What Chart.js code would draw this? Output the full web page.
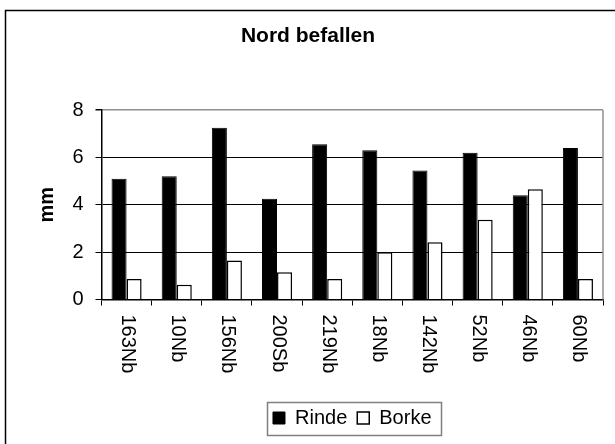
<!DOCTYPE html>
<html>
<head>
<meta charset="utf-8">
<script src="https://cdn.jsdelivr.net/npm/chart.js@4"></script>
<style>
    html, body { margin: 0; padding: 0; background: #fff; }
    canvas { display: block; }
</style>
</head>
<body>
<canvas id="myChart" width="615" height="444"></canvas>
<script>
// Sample names on the x axis
const samples = ['163Nb', '10Nb', '156Nb', '200Sb', '219Nb', '18Nb', '142Nb', '52Nb', '46Nb', '60Nb'];

// Thickness in mm
const rinde = [5.1, 5.2, 7.25, 4.25, 6.55, 6.3, 5.45, 6.2, 4.4, 6.4];
const borke = [0.87, 0.62, 1.65, 1.15, 0.87, 2.0, 2.42, 3.37, 4.65, 0.87];

const yTicks = [0, 2, 4, 6, 8];

const FONT = '"Liberation Sans", Arial, sans-serif';

Chart.defaults.font.family = FONT;
Chart.defaults.color = '#000';

// Outer frame, plot border, rotated category labels and legend box
const decorations = {
    id: 'decorations',
    beforeDraw(chart) {
        const ctx = chart.ctx;
        ctx.save();
        ctx.fillStyle = '#fff';
        ctx.fillRect(0, 0, chart.width, chart.height);
        ctx.strokeStyle = '#000';
        ctx.lineWidth = 1.5;
        ctx.strokeRect(5.5, 10.5, 640, 460);
        ctx.restore();
    },
    afterDraw(chart) {
        const ctx = chart.ctx;
        const area = chart.chartArea;
        const x = chart.scales.x;

        ctx.save();
        // gray right edge of the plot area
        ctx.strokeStyle = '#909090';
        ctx.lineWidth = 1.5;
        ctx.beginPath();
        ctx.moveTo(area.right, area.top);
        ctx.lineTo(area.right, area.bottom);
        ctx.stroke();

        // x labels, reading top to bottom
        ctx.fillStyle = '#000';
        ctx.font = '20px ' + FONT;
        ctx.textAlign = 'left';
        ctx.textBaseline = 'middle';
        samples.forEach((label, i) => {
            ctx.save();
            ctx.translate(x.getPixelForTick(i) + 1, area.bottom + 15);
            ctx.rotate(Math.PI / 2);
            ctx.fillText(label, 0, 0);
            ctx.restore();
        });

        // legend frame
        const boxes = chart.legend.legendHitBoxes;
        if (boxes && boxes.length) {
            const left = Math.min(...boxes.map(b => b.left));
            const right = Math.max(...boxes.map(b => b.left + b.width));
            const top = Math.min(...boxes.map(b => b.top));
            const bottom = Math.max(...boxes.map(b => b.top + b.height));
            ctx.strokeStyle = '#808080';
            ctx.lineWidth = 1.5;
            ctx.strokeRect(Math.round(left - 6) + 0.5, Math.round(top - 6) + 0.5,
                Math.round(right - left + 15), Math.round(bottom - top + 13));
        }
        ctx.restore();
    }
};

new Chart(document.getElementById('myChart'), {
    type: 'bar',
    data: {
        labels: samples,
        datasets: [
            {
                label: 'Rinde',
                data: rinde,
                backgroundColor: '#000',
                borderColor: '#000',
                borderWidth: 1
            },
            {
                label: 'Borke',
                data: borke,
                backgroundColor: '#fff',
                borderColor: '#000',
                borderWidth: 1.5
            }
        ]
    },
    options: {
        responsive: false,
        animation: false,
        devicePixelRatio: 1,
        layout: {
            padding: { left: 13, right: 12, top: 0, bottom: 6 }
        },
        datasets: {
            bar: {
                categoryPercentage: 0.6,
                barPercentage: 1
            }
        },
        plugins: {
            title: {
                display: true,
                text: 'Nord befallen',
                color: '#000',
                font: { size: 21, weight: 'bold' },
                padding: { top: 24, bottom: 60.8 }
            },
            legend: {
                display: true,
                position: 'bottom',
                fullSize: false,
                labels: {
                    color: '#000',
                    font: { size: 20 },
                    boxWidth: 12,
                    boxHeight: 12,
                    padding: 10
                }
            },
            tooltip: { enabled: false }
        },
        scales: {
            x: {
                grid: {
                    offset: true,
                    drawOnChartArea: false,
                    drawTicks: true,
                    tickLength: 6,
                    color: '#000',
                    lineWidth: 1
                },
                border: { color: '#000', width: 1.5 },
                ticks: { display: false },
                afterFit(scale) {
                    scale.height = 98.5;
                }
            },
            y: {
                min: 0,
                max: 8,
                afterBuildTicks(scale) {
                    scale.ticks = yTicks.map(v => ({ value: v }));
                },
                grid: {
                    color: ctx => (ctx.tick && ctx.tick.value === 8 ? '#909090' : '#000'),
                    lineWidth: ctx => (ctx.tick && ctx.tick.value === 8 ? 1.5 : 1),
                    tickColor: '#000',
                    tickLength: 6,
                    drawTicks: true
                },
                border: { color: '#000', width: 1.5 },
                ticks: {
                    color: '#000',
                    font: { size: 20 },
                    padding: 12
                },
                title: {
                    display: true,
                    text: 'mm',
                    color: '#000',
                    font: { size: 20, weight: 'bold' },
                    padding: { top: 22, bottom: 0 }
                },
                afterFit(scale) {
                    scale.width = 88.5;
                }
            }
        }
    },
    plugins: [decorations]
});
</script>
</body>
</html>
